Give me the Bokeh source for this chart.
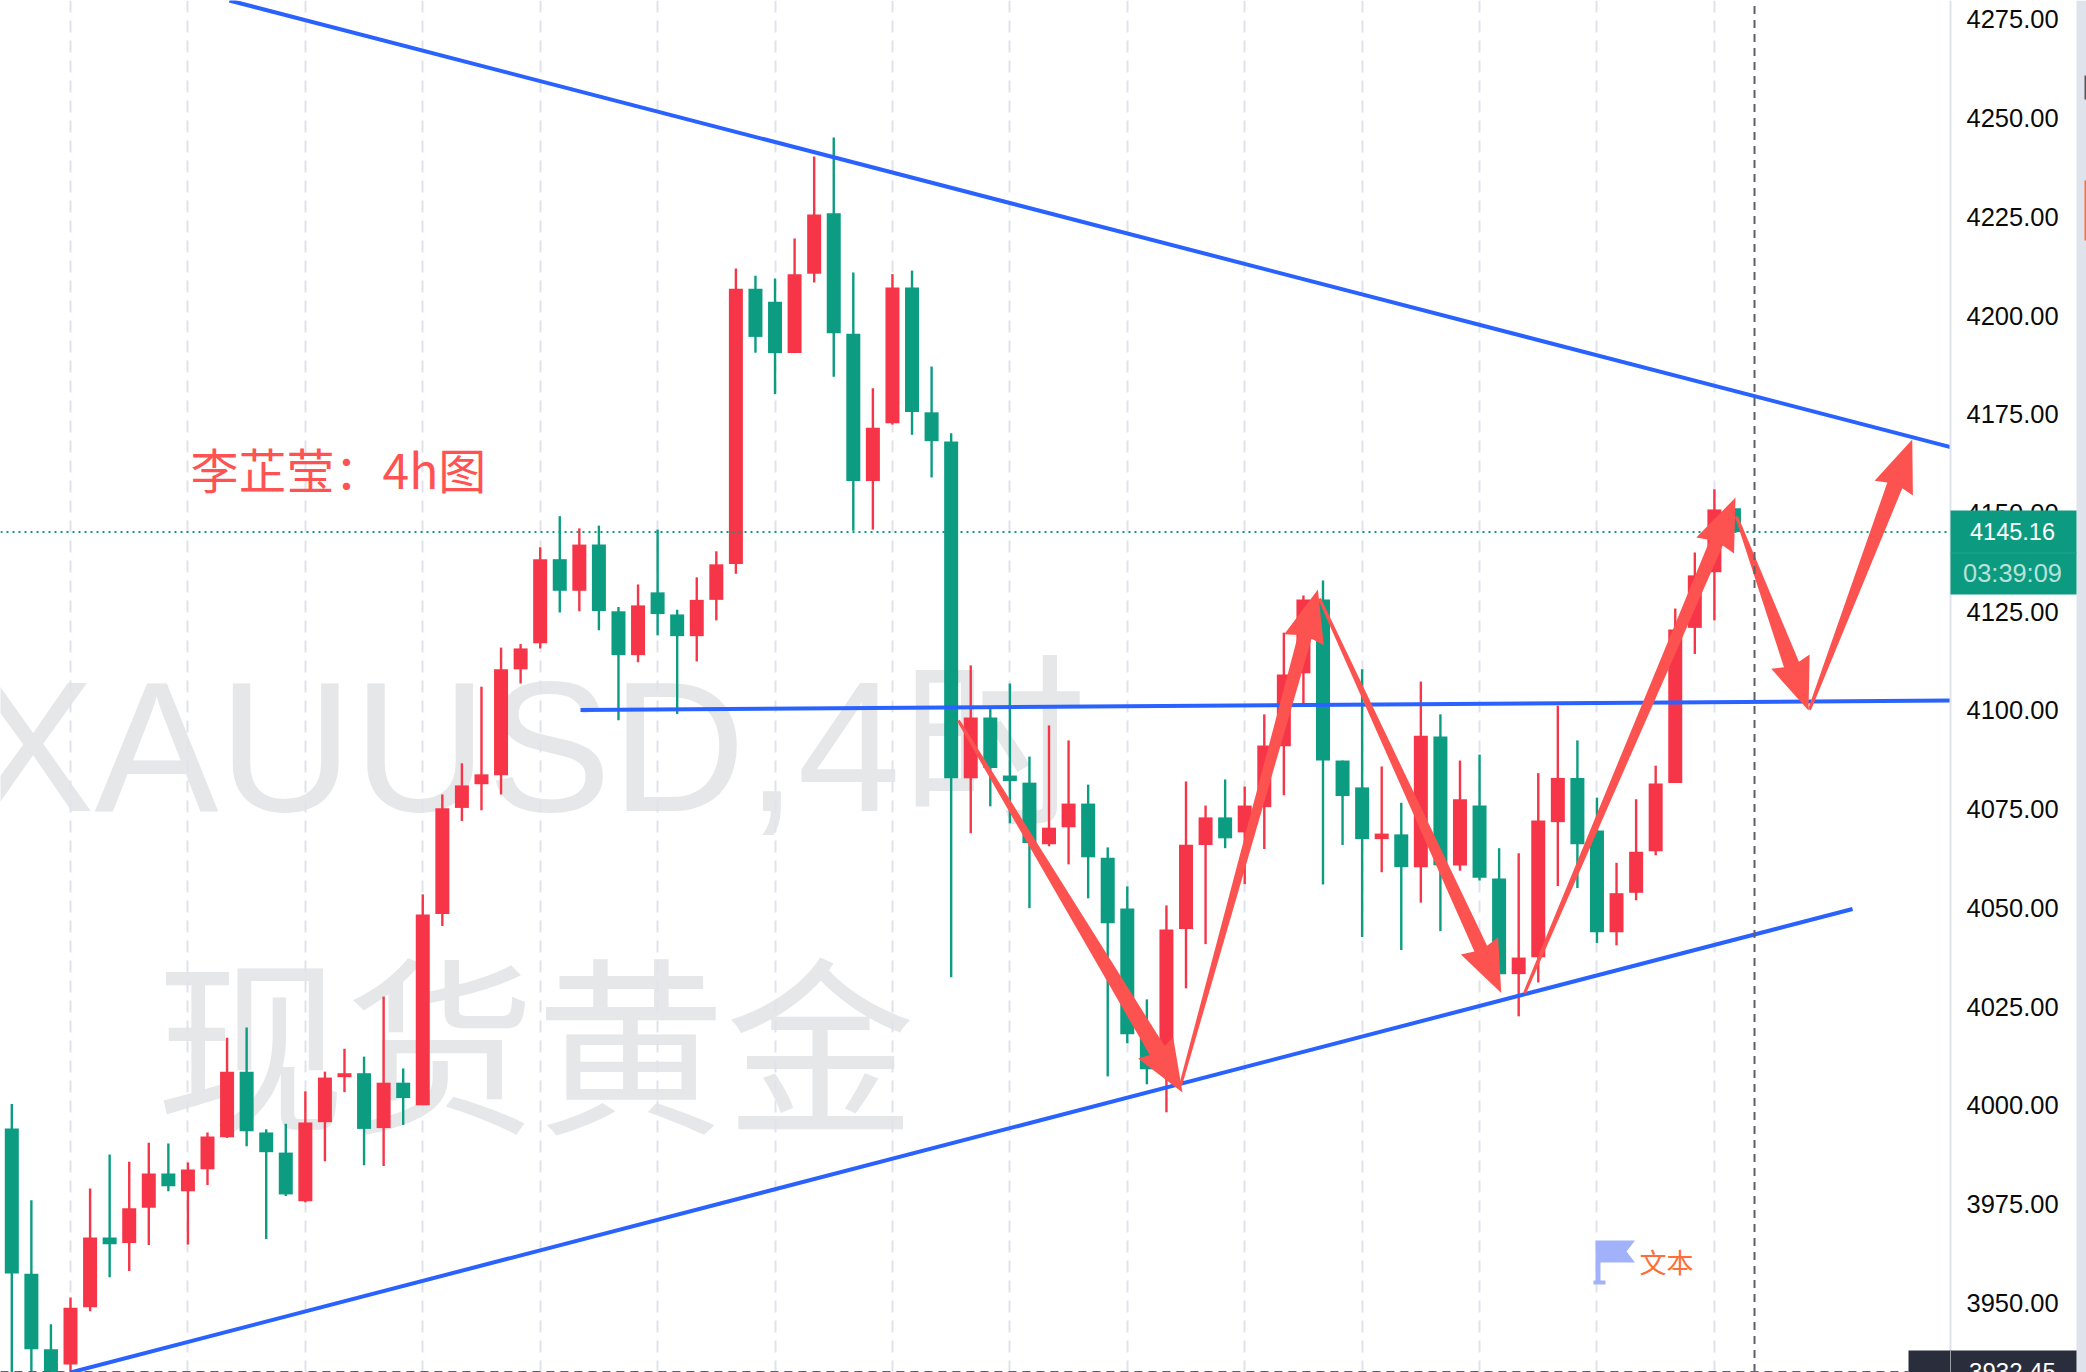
from bokeh.core.properties import value
from bokeh.embed import file_html
from bokeh.models import BoxAnnotation, ColumnDataSource, FixedTicker, Label, NumeralTickFormatter, Range1d
from bokeh.plotting import figure
from bokeh.resources import INLINE
import numpy as np

# ---------- chart data ----------
opens = [3994.1,3957.3,3938.2,3934.3,3948.8,3966.5,3965.1,3974.0,3982.7,3978.2,
         3983.8,3991.9,4008.5,3993.1,3988.0,3975.7,3995.7,4007.1,4008.1,3994.2,
         4005.7,4000.0,4048.4,4075.3,4081.3,4083.6,4110.4,4117.0,4138.3,4130.3,
         4142.0,4125.1,4114.0,4129.9,4124.3,4118.8,4128.0,4137.1,4206.8,4203.5,
         4190.5,4210.6,4225.9,4195.4,4158.1,4172.7,4207.1,4175.5,4168.1,4082.8,
         4098.2,4083.5,4081.7,4066.1,4070.4,4076.4,4062.7,4049.8,4018.0,4009.1,
         4044.6,4065.9,4072.9,4069.1,4075.5,4090.9,4109.4,4128.1,4087.3,4080.5,
         4067.4,4068.6,4060.3,4093.4,4060.7,4075.9,4057.4,4033.2,4037.5,4071.7,
         4082.9,4069.6,4043.8,4053.8,4064.3,4081.6,4120.9,4135.0,4151.2]
highs = [4000.3,3975.9,3944.5,3951.3,3978.9,3987.5,3985.7,3990.5,3990.3,3985.5,
         3993.1,4017.1,4019.7,3993.9,3995.3,4003.5,4008.5,4014.3,4012.3,4027.5,
         4009.3,4053.4,4078.7,4086.6,4106.0,4115.9,4116.8,4141.3,4149.2,4146.1,
         4146.8,4126.2,4131.9,4145.8,4125.5,4133.7,4140.3,4211.9,4210.1,4209.4,
         4219.5,4240.3,4245.1,4210.9,4181.6,4210.5,4211.4,4187.1,4170.2,4111.4,
         4100.4,4106.8,4088.3,4096.2,4092.4,4081.2,4065.3,4055.4,4026.8,4050.6,
         4082.0,4075.9,4082.5,4080.7,4099.0,4119.7,4129.1,4132.9,4087.3,4110.4,
         4085.8,4076.6,4107.3,4099.0,4087.3,4088.8,4065.1,4063.8,4084.1,4101.2,
         4092.4,4077.9,4061.4,4077.5,4086.0,4125.8,4140.0,4156.0,4151.2]
lows = [3925.0,3925.0,3920.0,3930.0,3947.8,3956.4,3958.0,3964.6,3978.2,3964.7,
        3979.8,3991.7,3989.6,3966.1,3977.0,3975.4,3985.8,4003.3,3984.8,3984.6,
        3995.0,4000.0,4045.4,4072.0,4074.7,4078.7,4106.8,4115.7,4124.8,4125.1,
        4120.3,4097.5,4112.2,4119.0,4099.1,4112.4,4122.8,4134.6,4190.6,4180.1,
        4190.5,4208.4,4184.5,4145.5,4145.8,4172.4,4169.8,4159.0,4032.4,4068.9,
        4075.7,4071.4,4049.9,4065.6,4061.0,4052.4,4007.3,4015.7,4005.3,3998.2,
        4029.6,4040.8,4065.1,4056.0,4064.9,4078.5,4101.7,4055.9,4065.9,4042.6,
        4059.0,4039.3,4051.3,4044.1,4059.4,4056.9,4033.2,4022.5,4031.1,4055.5,
        4055.0,4041.1,4040.5,4051.9,4063.3,4081.6,4114.3,4122.8,4145.16]
closes = [3957.4,3938.2,3925.0,3948.7,3966.5,3964.8,3973.9,3982.7,3979.5,3983.7,
          3992.1,4008.5,3993.4,3988.1,3977.4,3995.6,4007.0,4008.1,3994.0,4005.7,
          4001.8,4048.3,4075.2,4081.0,4083.8,4110.4,4115.7,4138.3,4130.3,4142.0,
          4125.2,4114.0,4126.6,4124.4,4118.8,4128.0,4137.0,4206.8,4194.6,4190.5,
          4210.5,4225.6,4195.5,4158.1,4171.6,4207.1,4175.6,4168.2,4082.8,4098.2,
          4085.4,4082.1,4066.4,4070.3,4076.4,4062.8,4046.1,4018.0,4009.1,4044.5,
          4066.0,4072.9,4067.6,4075.9,4091.1,4109.1,4128.1,4087.3,4078.3,4067.4,
          4068.8,4060.3,4093.6,4060.8,4077.5,4057.6,4033.2,4037.4,4072.1,4082.9,
          4066.1,4043.8,4053.7,4064.2,4081.5,4120.5,4134.2,4150.9,4145.16]

price_ticks = [3950,3975,4000,4025,4050,4075,4100,4125,4150,4175,4200,4225,4250,4275]
grid_bars = [3,9,15,21,27,33,39,45,51,57,63,69,75,81,87]
last_price = 4145.16
crosshair_bar = 89.05
crosshair_price = 3932.45

# trend lines: bar0, price0, bar1, price1
trend_lines = [(11.12,4279.81,99.07,4166.7),
               (29.06,4100.1,99.07,4102.5),
               (3.0,3932.3,94.06,4049.7)]
# arrows: tail bar, tail price, tip bar, tip price, half width of the shaft at the neck (px)
arrows = [(48.37,4097.44,59.82,4003.2,8.7),
          (59.72,4005.0,66.74,4130.6,7.0),
          (66.82,4128.3,76.11,4028.4,7.0),
          (77.30,4028.4,88.08,4153.9,7.0),
          (88.13,4149.1,91.81,4100.0,8.0),
          (91.86,4100.2,97.11,4168.6,8.0)]

# ---------- scales ----------
PX0, PX_BAR = 11.3, 19.57
P0, P_PX = 4279.81, 0.25329
def bx(px): return (px - PX0) / PX_BAR
def py(y): return P0 - P_PX * y

RED, GREEN, BLUE, ARROW = "#f63648", "#0b9c82", "#2962ff", "#fd5350"
GRID, WATER = "#e0e3eb", "#e6e7e9"

p = figure(width=2086, height=1372, output_backend="svg", toolbar_location=None,
           x_range=Range1d(bx(0), bx(2086)), y_range=Range1d(py(1372), py(0)),
           x_axis_location=None, y_axis_location="right",
           min_border_left=0, min_border_top=0, min_border_bottom=0, min_border_right=0)
p.styles = {"position": "absolute", "left": "0px", "top": "0px"}
p.outline_line_color = None
p.background_fill_color = "white"
p.ygrid.visible = False
p.xgrid.ticker = FixedTicker(ticks=grid_bars)
p.xgrid.grid_line_color = GRID
p.xgrid.grid_line_width = 2
p.xgrid.grid_line_dash = "12 8"

ax = p.yaxis[0]
ax.fixed_location = bx(1950)
ax.ticker = FixedTicker(ticks=price_ticks)
ax.formatter = NumeralTickFormatter(format="0.00")
ax.major_tick_line_color = None
ax.minor_tick_line_color = None
ax.axis_line_color = GRID
ax.axis_line_width = 2
ax.major_label_standoff = 10
ax.major_label_text_font = "Liberation Sans"
ax.major_label_text_font_size = "25.5px"
ax.major_label_text_color = "#0a0a0a"

# watermark
LATIN = "Liberation Sans, Noto Sans CJK SC"
p.text([bx(-30)], [py(746)], text=["XAUUSD,4时"], text_font=value(LATIN), text_font_size=value("186px"),
       text_color=WATER, text_baseline="alphabetic", text_align="left", level="image")
p.text([bx(535)], [py(1036)], text=["现货黄金"], text_font=value("Noto Sans CJK SC"), text_font_size=value("190px"),
       text_color=WATER, text_baseline="middle", text_align="center", level="image")

# candles
colors = [RED if c >= o else GREEN for o, c in zip(opens, closes)]
bars = list(range(len(opens)))
src = ColumnDataSource(dict(x=bars, o=opens, h=highs, l=lows, c=closes, col=colors))
p.segment("x", "h", "x", "l", source=src, line_color="col", line_width=2.4)
p.vbar("x", 14 / PX_BAR, "o", "c", source=src, fill_color="col", line_color=None)

# last price line
p.line([bx(0), bx(1950)], [last_price, last_price], line_color=GREEN, line_width=2, line_dash="2 4")

# trend lines
for b0, v0, b1, v1 in trend_lines:
    p.line([b0, b1], [v0, v1], line_color=BLUE, line_width=4)

# arrows
def arrow_poly(tb, tv, hb, hv, neck, head_len=52.0, head_half=20.5, neck_back=49.0, tail_half=1.5):
    t = np.array([tb * PX_BAR, -tv / P_PX])
    h = np.array([hb * PX_BAR, -hv / P_PX])
    u = (h - t) / np.linalg.norm(h - t)
    n = np.array([-u[1], u[0]])
    pts = [t + n * tail_half, h - u * neck_back + n * neck, h - u * head_len + n * head_half, h,
           h - u * head_len - n * head_half, h - u * neck_back - n * neck, t - n * tail_half]
    pts = np.array(pts)
    return list(pts[:, 0] / PX_BAR), list(-pts[:, 1] * P_PX)

polys = [arrow_poly(*a) for a in arrows]
p.patches([q[0] for q in polys], [q[1] for q in polys], fill_color=ARROW, line_color=None)

# texts and flag
p.text([bx(190)], [py(467)], text=["李芷莹\uff1a4h图"], text_font=value("Noto Sans CJK SC"), text_font_size=value("48px"),
       text_color="#ff5252", text_baseline="middle", text_align="left")
p.text([bx(1639)], [py(1261)], text=["文本"], text_font=value("Noto Sans CJK SC"), text_font_size=value("27px"),
       text_color="#ff6d3a", text_baseline="middle", text_align="left")
flag_x = [1595,1595,1634.5,1626,1634.5,1600,1600,1605,1605,1593,1593,1595]
flag_y = [1237,1240,1240,1251,1262,1262,1280,1280,1284,1284,1280,1280]
p.patch([bx(v) for v in flag_x], [py(v) for v in flag_y], fill_color="#a2b2fa", line_color=None)

# crosshair
p.line([crosshair_bar, crosshair_bar], [crosshair_price, py(0)], line_color="#5d606b", line_width=2, line_dash="8 6")
p.line([bx(0), bx(1908)], [crosshair_price, crosshair_price], line_color="#5d606b", line_width=2, line_dash="8 6")

# price scale chrome
def box(l, r, t, b, color):
    p.add_layout(BoxAnnotation(left=bx(l), right=bx(r), top=py(t), bottom=py(b), fill_color=color, fill_alpha=1,
                               line_color=None, level="overlay"))
box(2076, 2086, 0, 1372, "#dfe3ec")
box(2084, 2086, 75, 99, "#555555")
box(2084, 2086, 180, 240, "#ff6d3a")
box(1950, 2076, 510, 594, "#0c9b81")
box(1950, 2076, 552, 553, "#1ea38b")
box(1908, 2076, 1350, 1372, "#2a2e3c")
box(1949.5, 1950.5, 1350, 1372, "#9a9ca8")

def lab(y, t, color, size):
    p.add_layout(Label(x=bx(2012), y=py(y), text=t, text_color=color, text_font="Liberation Sans",
                       text_font_size=size, text_align="center", text_baseline="middle", level="overlay"))
lab(531, "4145.16", "white", "23.5px")
lab(572, "03:39:09", "#b8e2d9", "25.4px")
lab(1371, "3932.45", "white", "24px")

icon = p.scatter([bx(1929)], [crosshair_price], size=34, marker="circle_cross", fill_color=None,
                 line_color="white", line_width=2)
icon.level = "overlay"

open("out.html", "w").write(file_html(p, INLINE))
